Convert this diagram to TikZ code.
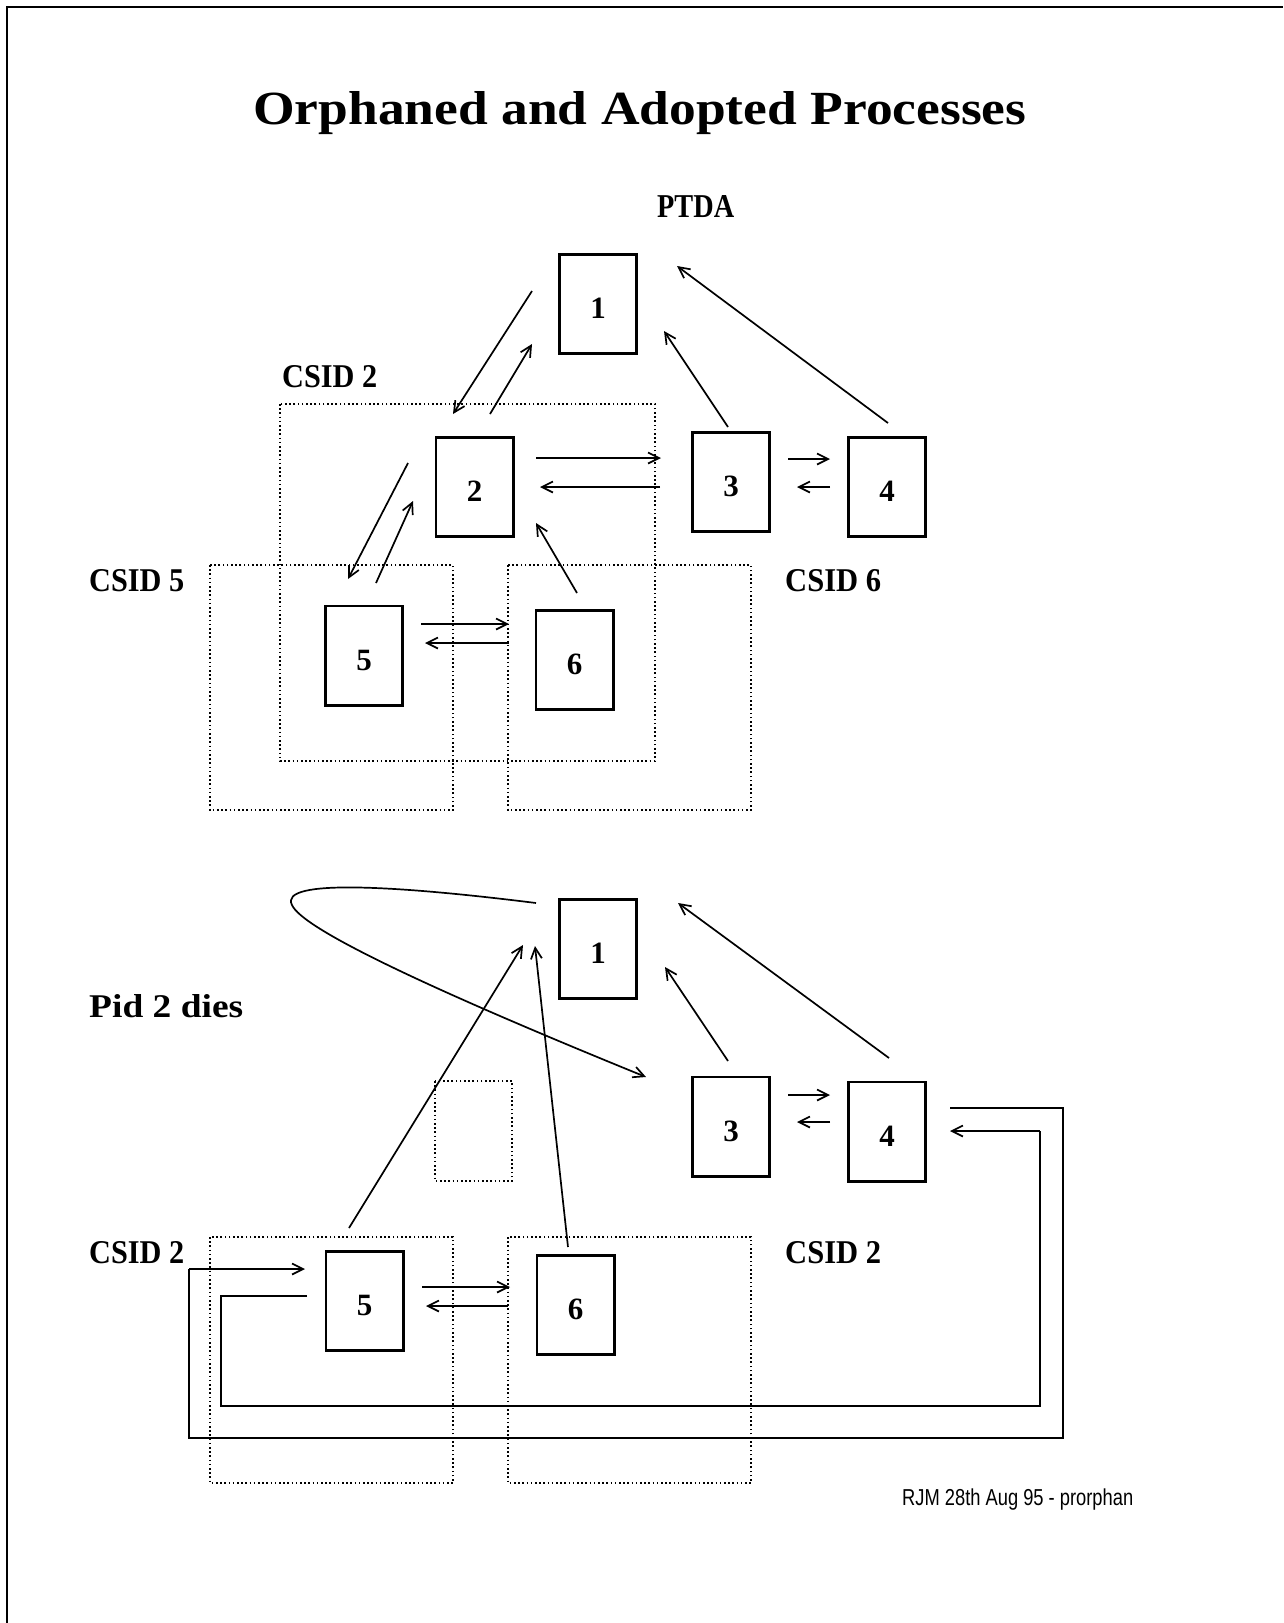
\documentclass[tikz,border=0pt]{standalone}
\usepackage{fontspec}
\setmainfont{Liberation Serif}
\newfontfamily\footfont{Liberation Sans}
\usetikzlibrary{arrows.meta}
\newcommand{\fitbox}[3]{\resizebox{#1pt}{#2pt}{\bfseries #3}}
\begin{document}
\begin{tikzpicture}[x=1pt,y=-1pt,
  proc/.style={draw, line width=2.8pt, minimum width=77.2pt, minimum height=99.2pt,
    inner sep=0pt, font=\bfseries\fontsize{31}{33}\selectfont, text height=29pt, text depth=0pt},
  csid/.style={draw, line width=1.6pt, dash pattern=on 1.6pt off 2.6pt},
  arr/.style={-{Straight Barb[length=11pt,width=11pt]}, line width=1.7pt},
  loopline/.style={line width=2.2pt},
  lbl/.style={inner sep=0pt, anchor=base west}]
\useasboundingbox (0,0) rectangle (1283,1623);
\fill[white] (0,0) rectangle (1283,1623);
% frame
\draw[line width=2pt] (7,1623) -- (7,7) -- (1283,7);

% title and labels
\node[lbl] (title) at (253,124) {\fitbox{773}{33}{Orphaned and Adopted Processes}};
\node[lbl] (ptda) at (657,217) {\fitbox{77}{22}{PTDA}};
\node[lbl] (lcsid2) at (282,387) {\fitbox{95}{22}{CSID 2}};
\node[lbl] (lcsid5) at (89,591) {\fitbox{95}{22}{CSID 5}};
\node[lbl] (lcsid6) at (785,591) {\fitbox{96}{22}{CSID 6}};
\node[lbl] (lpid) at (89,1017) {\fitbox{154}{23}{Pid 2 dies}};
\node[lbl] (lcsid2l) at (89,1263) {\fitbox{95}{22}{CSID 2}};
\node[lbl] (lcsid2r) at (785,1263) {\fitbox{96}{22}{CSID 2}};
\node[lbl] (foot) at (902,1505) {\resizebox{231pt}{16.7pt}{\footfont RJM 28th Aug 95 - prorphan}};

% dotted session boxes (top)
\draw[csid] (280,404) rectangle (655,761);
\draw[csid] (210,565) rectangle (453,810);
\draw[csid] (508,565) rectangle (751,810);
% dotted boxes (bottom)
\draw[csid] (435,1081) rectangle (512,1181);
\draw[csid] (210,1237) rectangle (453,1483);
\draw[csid] (508,1237) rectangle (751,1483);

% process boxes (top)
\node[proc] (b1) at (598,304) {1};
\node[proc] (b2) at (474.5,487) {2};
\node[proc] (b3) at (731,482) {3};
\node[proc] (b4) at (887,487) {4};
\node[proc] (b5) at (364,655.5) {5};
\node[proc] (b6) at (574.5,660) {6};
% process boxes (bottom)
\node[proc] (c1) at (598,949) {1};
\node[proc] (c3) at (731,1126.5) {3};
\node[proc] (c4) at (887,1131.5) {4};
\node[proc] (c5) at (364.5,1301) {5};
\node[proc] (c6) at (575.5,1305) {6};

% connector end points (top)
\coordinate (a12s) at (532,291); \coordinate (a12e) at (453,414);
\coordinate (a21s) at (490,414); \coordinate (a21e) at (532,344);
\coordinate (a23s) at (536,458); \coordinate (a23e) at (661,458);
\coordinate (a32s) at (660,487); \coordinate (a32e) at (540,487);
\coordinate (a25s) at (408,463); \coordinate (a25e) at (348,579);
\coordinate (a52s) at (376,583); \coordinate (a52e) at (413,501);
\coordinate (a62s) at (577,593); \coordinate (a62e) at (536,523);
\coordinate (a56s) at (421,624); \coordinate (a56e) at (509,624);
\coordinate (a65s) at (509,643); \coordinate (a65e) at (425,643);
\coordinate (a31s) at (728,427); \coordinate (a31e) at (664,331);
\coordinate (a41s) at (888,423); \coordinate (a41e) at (677,266);
\coordinate (a34s) at (788,459); \coordinate (a34e) at (830,459);
\coordinate (a43s) at (830,487); \coordinate (a43e) at (797,487);

\draw[arr] (a12s) -- (a12e);
\draw[arr] (a21s) -- (a21e);
\draw[arr] (a23s) -- (a23e);
\draw[arr] (a32s) -- (a32e);
\draw[arr] (a25s) -- (a25e);
\draw[arr] (a52s) -- (a52e);
\draw[arr] (a62s) -- (a62e);
\draw[arr] (a56s) -- (a56e);
\draw[arr] (a65s) -- (a65e);
\draw[arr] (a31s) -- (a31e);
\draw[arr] (a41s) -- (a41e);
\draw[arr] (a34s) -- (a34e);
\draw[arr] (a43s) -- (a43e);

% connector end points (bottom)
\coordinate (cvs) at (536,903); \coordinate (cvm) at (292,905); \coordinate (cve) at (646,1077);
\coordinate (b51s) at (349,1228); \coordinate (b51e) at (523,945);
\coordinate (b61s) at (568,1247); \coordinate (b61e) at (535,946);
\coordinate (b31s) at (728,1061); \coordinate (b31e) at (665,967);
\coordinate (b41s) at (889,1058); \coordinate (b41e) at (678,903);
\coordinate (b34s) at (788,1095); \coordinate (b34e) at (830,1095);
\coordinate (b43s) at (830,1122); \coordinate (b43e) at (797,1122);
\coordinate (b56s) at (422,1287); \coordinate (b56e) at (510,1287);
\coordinate (b65s) at (508,1306); \coordinate (b65e) at (426,1306);

\draw[arr] (cvs) .. controls (400,886) and (278,878) .. (cvm)
  .. controls (302,928) and (420,985) .. (cve);
\draw[arr] (b51s) -- (b51e);
\draw[arr] (b61s) -- (b61e);
\draw[arr] (b31s) -- (b31e);
\draw[arr] (b41s) -- (b41e);
\draw[arr] (b34s) -- (b34e);
\draw[arr] (b43s) -- (b43e);
\draw[arr] (b56s) -- (b56e);
\draw[arr] (b65s) -- (b65e);

% adoption loops between 4 and 5
\coordinate (o1) at (950,1108); \coordinate (o2) at (1063,1108);
\coordinate (o3) at (1063,1438); \coordinate (o4) at (189,1438);
\coordinate (o5) at (189,1269); \coordinate (o6) at (305,1269);
\coordinate (i1) at (307,1296); \coordinate (i2) at (221,1296);
\coordinate (i3) at (221,1406); \coordinate (i4) at (1040,1406);
\coordinate (i5) at (1040,1131); \coordinate (i6) at (950,1131);
\draw[loopline] (o1) -- (o2) -- (o3) -- (o4) -- (o5);
\draw[arr] (o5) -- (o6);
\draw[loopline] (i1) -- (i2) -- (i3) -- (i4) -- (i5);
\draw[arr] (i5) -- (i6);
\end{tikzpicture}
\end{document}
